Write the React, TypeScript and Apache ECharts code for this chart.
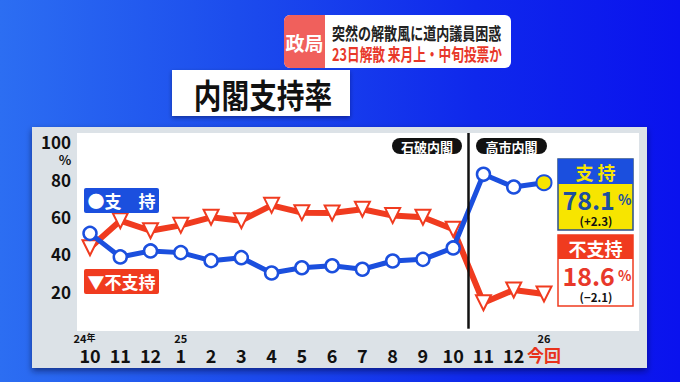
import React, { useEffect, useRef } from "react";
import * as echarts from "echarts";

const months = ["10", "11", "12", "1", "2", "3", "4", "5", "6", "7", "8", "9", "10", "11", "12", "今回"];
const yearMarks = ["24", "", "", "25", "", "", "", "", "", "", "", "", "", "", "", "26"];
const supportRates = [51.0, 38.4, 41.6, 40.7, 36.4, 38.0, 29.8, 32.6, 33.7, 31.8, 36.2, 37.1, 43.2, 82.6, 75.8, 78.1];
const nonSupportRates = [43.3, 57.8, 52.4, 55.3, 59.6, 57.8, 66.0, 62.1, 61.9, 63.9, 60.5, 59.6, 53.2, 13.9, 20.7, 18.6];
const cabinetDivider = 12.5;
const cabinets = ["石破内閣", "高市内閣"];
const latestSupport = "78.1";
const latestSupportDiff = "(+2.3)";
const latestNon = "18.6";
const latestNonDiff = "(−2.1)";

const FONT = '"Noto Sans CJK JP", "Noto Sans", sans-serif';
const BLUE = "#1b4fde";
const RED = "#f03b1f";
const YELLOW = "#f7e500";

export default function App() {
  const ref = useRef<HTMLDivElement>(null);
  useEffect(() => {
    if (!ref.current) return;
    const chart = echarts.init(ref.current, null, { renderer: "svg" });
    const last = supportRates.length - 1;
    chart.setOption({
      animation: false,
      textStyle: { fontFamily: FONT },
      grid: { left: 90, width: 454, top: 133, height: 195.7 },
      xAxis: {
        type: "value",
        min: 0,
        max: months.length - 1,
        interval: 1,
        axisLine: { show: false },
        axisTick: { show: false },
        splitLine: { show: false },
        axisLabel: {
          margin: 2,
          fontFamily: FONT,
          showMinLabel: true,
          showMaxLabel: true,
          formatter: (v: number) => {
            const i = Math.round(v);
            const y = yearMarks[i];
            const top = i === 0 ? `{y|${y}}{yk|年}` : y ? `{y|${y}}` : `{y| }`;
            const bottom = i === months.length - 1 ? `{now|${months[i]}}` : `{m|${months[i]}}`;
            return `${top}\n${bottom}`;
          },
          rich: {
            y: { fontSize: 11, fontWeight: "bold", color: "#111", lineHeight: 14, fontFamily: FONT },
            yk: { fontSize: 9, fontWeight: "bold", color: "#111", lineHeight: 14, padding: [0, 11, 0, 0], fontFamily: FONT },
            m: { fontSize: 18, fontWeight: "bold", color: "#111", lineHeight: 20, fontFamily: FONT },
            now: { fontSize: 17, fontWeight: "bold", color: "#e8321c", lineHeight: 20, fontFamily: FONT },
          },
        },
      },
      yAxis: {
        type: "value",
        min: 0,
        max: 104.7,
        interval: 20,
        axisLine: { show: false },
        axisTick: { show: false },
        splitLine: { show: false },
        axisLabel: {
          margin: 19,
          fontSize: 17,
          fontWeight: "bold",
          color: "#111",
          fontFamily: FONT,
          showMaxLabel: false,
          formatter: (v: number) => (v === 0 || v > 100 ? "" : String(v)),
        },
      },
      series: [
        {
          type: "line",
          data: nonSupportRates.map((v, i) => [i, v]),
          lineStyle: { color: RED, width: 6 },
          symbol: "triangle",
          symbolRotate: 180,
          symbolSize: 15,
          itemStyle: { color: "#fff", borderColor: RED, borderWidth: 2 },
          z: 3,
        },
        {
          type: "line",
          data: supportRates.map((v, i) =>
            i === last
              ? { value: [i, v], itemStyle: { color: YELLOW, borderColor: BLUE, borderWidth: 2 }, symbolSize: 15 }
              : [i, v]
          ),
          lineStyle: { color: BLUE, width: 5 },
          symbol: "circle",
          symbolSize: 13,
          itemStyle: { color: "#fff", borderColor: BLUE, borderWidth: 2.5 },
          z: 4,
          markLine: {
            silent: true,
            symbol: "none",
            label: { show: false },
            lineStyle: { color: "#111", width: 2.5, type: "solid" },
            data: [{ xAxis: cabinetDivider }],
          },
        },
      ],
      graphic: [
        {
          type: "rect",
          z: -10,
          shape: { x: 32, y: 127, width: 615, height: 241 },
          style: { fill: "#dce2e7", shadowBlur: 6, shadowColor: "rgba(0,0,30,0.5)", shadowOffsetY: 3 },
        },
        {
          type: "rect",
          z: -9,
          shape: { x: 77, y: 133, width: 562, height: 198 },
          style: { fill: "#ffffff" },
        },
        {
          type: "text",
          z: 10,
          x: 65,
          y: 159,
          style: { text: "%", fontSize: 13, fontWeight: "bold", fill: "#111", align: "center", verticalAlign: "middle", fontFamily: FONT },
        },
        {
          type: "rect",
          z: 10,
          shape: { x: 172, y: 70, width: 178, height: 46 },
          style: { fill: "#fff", shadowBlur: 4, shadowColor: "rgba(0,0,40,0.4)", shadowOffsetY: 2 },
        },
        {
          type: "text",
          z: 11,
          x: 263,
          y: 94,
          scaleX: 0.84,
          style: { text: "内閣支持率", fontSize: 33, fontWeight: "bold", fill: "#111", align: "center", verticalAlign: "middle", fontFamily: FONT },
        },
        {
          type: "rect",
          z: 10,
          shape: { x: 284, y: 15, width: 227, height: 53, r: 6 },
          style: { fill: "#fff" },
        },
        {
          type: "rect",
          z: 11,
          shape: { x: 284, y: 15, width: 41, height: 53, r: [6, 0, 0, 6] },
          style: { fill: "#f0605c" },
        },
        {
          type: "text",
          z: 12,
          x: 304.5,
          y: 42,
          style: { text: "政局", fontSize: 19, fontWeight: "bold", fill: "#fff", align: "center", verticalAlign: "middle", fontFamily: FONT },
        },
        {
          type: "text",
          z: 12,
          x: 332,
          y: 32,
          scaleX: 0.745,
          style: { text: "突然の解散風に道内議員困惑", fontSize: 17.5, fontWeight: "bold", fill: "#222", align: "left", verticalAlign: "middle", fontFamily: FONT },
        },
        {
          type: "text",
          z: 12,
          x: 332,
          y: 53,
          scaleX: 0.725,
          style: { text: "23日解散 来月上・中旬投票か", fontSize: 17.5, fontWeight: "bold", fill: "#e8382a", align: "left", verticalAlign: "middle", fontFamily: FONT },
        },
        {
          type: "rect",
          z: 10,
          shape: { x: 392, y: 138, width: 70, height: 16, r: 8 },
          style: { fill: "#111" },
        },
        {
          type: "text",
          z: 11,
          x: 427,
          y: 146.5,
          style: { text: cabinets[0], fontSize: 13, fontWeight: "bold", fill: "#fff", align: "center", verticalAlign: "middle", fontFamily: FONT },
        },
        {
          type: "rect",
          z: 10,
          shape: { x: 476, y: 138, width: 71, height: 16, r: 8 },
          style: { fill: "#111" },
        },
        {
          type: "text",
          z: 11,
          x: 511.5,
          y: 146.5,
          style: { text: cabinets[1], fontSize: 13, fontWeight: "bold", fill: "#fff", align: "center", verticalAlign: "middle", fontFamily: FONT },
        },
        {
          type: "rect",
          z: 10,
          shape: { x: 84, y: 188, width: 75, height: 25, r: 2 },
          style: { fill: BLUE },
        },
        {
          type: "text",
          z: 11,
          x: 121.5,
          y: 200.5,
          style: { text: "●支　持", fontSize: 17, fontWeight: "bold", fill: "#fff", align: "center", verticalAlign: "middle", fontFamily: FONT },
        },
        {
          type: "rect",
          z: 10,
          shape: { x: 84, y: 269, width: 75, height: 25, r: 2 },
          style: { fill: RED },
        },
        {
          type: "text",
          z: 11,
          x: 121.5,
          y: 281.5,
          style: { text: "▼不支持", fontSize: 17, fontWeight: "bold", fill: "#fff", align: "center", verticalAlign: "middle", fontFamily: FONT },
        },
        {
          type: "rect",
          z: 10,
          shape: { x: 558, y: 159, width: 75, height: 71 },
          style: { fill: YELLOW, stroke: "#2a4f8c", lineWidth: 1.5 },
        },
        {
          type: "rect",
          z: 11,
          shape: { x: 558, y: 159, width: 75, height: 25 },
          style: { fill: BLUE },
        },
        {
          type: "text",
          z: 12,
          x: 595.5,
          y: 172,
          style: { text: "支 持", fontSize: 18, fontWeight: "bold", fill: YELLOW, align: "center", verticalAlign: "middle", fontFamily: FONT },
        },
        {
          type: "text",
          z: 12,
          x: 597,
          y: 198.5,
          style: {
            text: `{n|${latestSupport}}{p| %}`,
            align: "center",
            verticalAlign: "middle",
            rich: {
              n: { fontSize: 25, fontWeight: "bold", fill: "#1d4e9e", lineHeight: 20, fontFamily: FONT },
              p: { fontSize: 14, fontWeight: "bold", fill: "#1d4e9e", lineHeight: 20, fontFamily: FONT },
            },
          },
        },
        {
          type: "text",
          z: 12,
          x: 596,
          y: 221,
          style: { text: latestSupportDiff, fontSize: 11.5, fontWeight: "bold", fill: "#111", align: "center", verticalAlign: "middle", fontFamily: FONT },
        },
        {
          type: "rect",
          z: 10,
          shape: { x: 558, y: 235, width: 75, height: 71 },
          style: { fill: "#fff", stroke: RED, lineWidth: 1.5 },
        },
        {
          type: "rect",
          z: 11,
          shape: { x: 558, y: 235, width: 75, height: 24 },
          style: { fill: RED },
        },
        {
          type: "text",
          z: 12,
          x: 595.5,
          y: 247.5,
          style: { text: "不支持", fontSize: 18, fontWeight: "bold", fill: "#fff", align: "center", verticalAlign: "middle", fontFamily: FONT },
        },
        {
          type: "text",
          z: 12,
          x: 597,
          y: 274.5,
          style: {
            text: `{n|${latestNon}}{p| %}`,
            align: "center",
            verticalAlign: "middle",
            rich: {
              n: { fontSize: 25, fontWeight: "bold", fill: "#e8382a", lineHeight: 20, fontFamily: FONT },
              p: { fontSize: 14, fontWeight: "bold", fill: "#e8382a", lineHeight: 20, fontFamily: FONT },
            },
          },
        },
        {
          type: "text",
          z: 12,
          x: 596,
          y: 297,
          style: { text: latestNonDiff, fontSize: 11.5, fontWeight: "bold", fill: "#111", align: "center", verticalAlign: "middle", fontFamily: FONT },
        },
      ],
    });
    return () => chart.dispose();
  }, []);
  return (
    <div
      style={{
        position: "fixed",
        left: 0,
        top: 0,
        width: 680,
        height: 382,
        background: "linear-gradient(90deg, #2c6ef2 0%, #1c4ced 35%, #0f28ec 70%, #0a12ee 100%)",
      }}
    >
      <div ref={ref} style={{ width: 680, height: 382 }} />
    </div>
  );
}
